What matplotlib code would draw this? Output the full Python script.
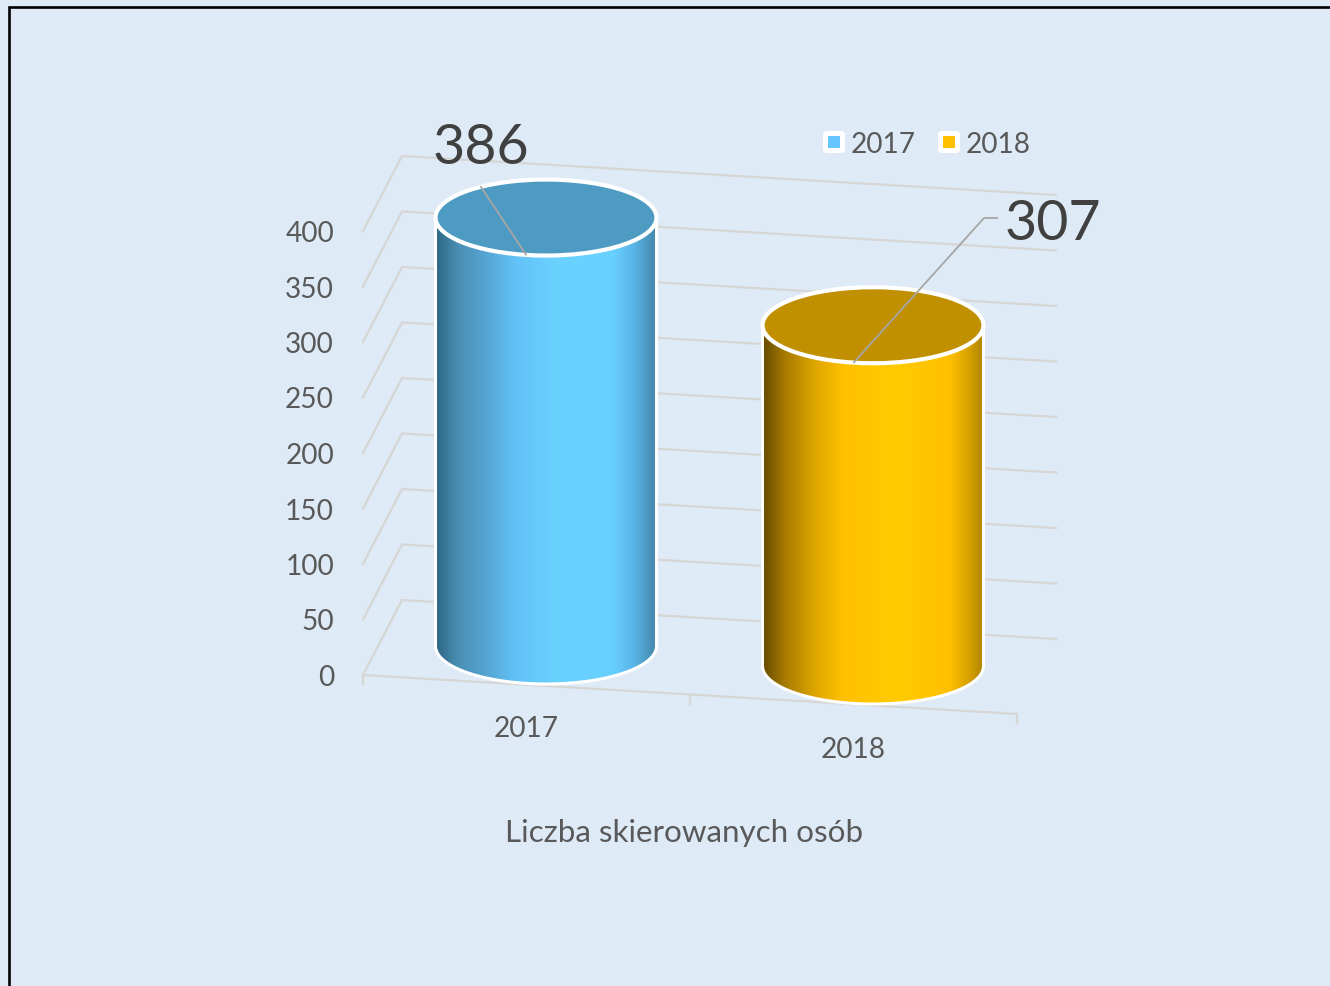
import numpy as np
import matplotlib
matplotlib.use("Agg")
import matplotlib.pyplot as plt
from matplotlib.colors import LinearSegmentedColormap
from matplotlib.patches import Ellipse, PathPatch, FancyBboxPatch, Rectangle
from matplotlib.path import Path

# data
categories = ["2017", "2018"]
values = [386, 307]
y_ticks = [0, 50, 100, 150, 200, 250, 300, 350, 400]
chart_title = "Liczba skierowanych osób"

BG = "#deeaf6"
GRID = "#d6d6d4"
TXT = "#595959"
LABEL = "#404040"

plt.rcParams["font.family"] = ["Lato", "DejaVu Sans"]

# ── scales (pixel space of the slide) ─────────────────────────────────
PX_PER_UNIT = 1.11
FRONT_L = (363, 675)
FRONT_R = (1017, 714)
BACK_L = (402, 600)
BACK_R = (1056, 639)
RX, RY = 110.5, 38


def val_y(v):
    return PX_PER_UNIT * v


def bar_base(i):
    return 546 + 327 * i, 646 + 20 * i


fig = plt.figure(figsize=(13.3, 9.86), dpi=100, facecolor=BG)
ax = fig.add_axes([0, 0, 1, 1])
ax.set_facecolor(BG)
ax.axis("off")

# ── walls and grid ────────────────────────────────────────────────────
for v in y_ticks:
    dy = val_y(v)
    ax.plot([FRONT_L[0], BACK_L[0], BACK_R[0]],
            [FRONT_L[1] - dy, BACK_L[1] - dy, BACK_R[1] - dy],
            color=GRID, lw=1.6, zorder=1, solid_joinstyle="miter")
    ax.text(334, FRONT_L[1] - dy + 3, str(v), ha="right", va="center",
            fontsize=20.2, color=TXT)

ax.plot([FRONT_L[0], FRONT_R[0]], [FRONT_L[1], FRONT_R[1]], color=GRID, lw=1.6, zorder=1)
for t in [0, 0.5, 1]:
    tx = FRONT_L[0] + t * (FRONT_R[0] - FRONT_L[0])
    ty = FRONT_L[1] + t * (FRONT_R[1] - FRONT_L[1])
    ax.plot([tx, tx], [ty, ty + 9], color=GRID, lw=1.6, zorder=1)

# ── cylinders ─────────────────────────────────────────────────────────
cmaps = [
    LinearSegmentedColormap.from_list("b", [(0, "#2e6684"), (0.1, "#4a8fb5"), (0.22, "#54a4d0"),
                                            (0.36, "#62c2f8"), (0.55, "#6ad2ff"), (0.8, "#68d0ff"),
                                            (0.9, "#5ab4e6"), (1, "#4285a8")]),
    LinearSegmentedColormap.from_list("g", [(0, "#674c00"), (0.1, "#a87c00"), (0.24, "#e0a800"),
                                            (0.36, "#ffc000"), (0.6, "#ffcb00"), (0.85, "#ffc000"),
                                            (0.93, "#d8a200"), (1, "#b08400")]),
]
top_colors = ["#4d9ac3", "#c09000"]
legend_colors = ["#66c6ff", "#ffc000"]
grad = np.linspace(0, 1, 256).reshape(1, -1)
theta = np.linspace(0, np.pi, 80)

for i, val in enumerate(values):
    cx, by = bar_base(i)
    ty = by - val_y(val)
    # side of the cylinder: straight edges plus the front half of the base ellipse
    xs = np.r_[cx - RX, cx + RX * np.cos(theta[::-1]), cx + RX]
    ys = np.r_[ty, by + RY * np.sin(theta[::-1]), ty]
    body = PathPatch(Path(np.c_[xs, ys]), fc="none", ec="white", lw=2.2, zorder=3)
    ax.add_patch(body)
    im = ax.imshow(grad, cmap=cmaps[i], extent=[cx - RX, cx + RX, by + RY, ty],
                   aspect="auto", interpolation="bilinear", zorder=2.5)
    im.set_clip_path(body)
    ax.add_patch(Ellipse((cx, ty), 2 * RX, 2 * RY, fc=top_colors[i], ec="white", lw=3, zorder=4))
    ax.text(cx - 19.5, 729 + 21 * i, categories[i], ha="center", va="center",
            fontsize=20.2, color=TXT)

# ── data labels with leader lines ─────────────────────────────────────
cx0, by0 = bar_base(0)
cx1, by1 = bar_base(1)
ax.plot([481, 526], [187, by0 - val_y(values[0]) + RY - 1], color="#a6a6a6", lw=1.3, zorder=5)
ax.plot([997, 984, 854], [218, 218, by1 - val_y(values[1]) + RY - 1], color="#a6a6a6", lw=1.3, zorder=5)
ax.text(481, 149, str(values[0]), ha="center", va="center", fontsize=40, color=LABEL, zorder=6)
ax.text(1053, 224, str(values[1]), ha="center", va="center", fontsize=40, color=LABEL, zorder=6)

# ── legend ────────────────────────────────────────────────────────────
for lx, name, col in zip([823, 938], categories, legend_colors):
    ax.add_patch(FancyBboxPatch((lx + 1, 132), 20, 20, boxstyle="round,pad=0,rounding_size=3",
                                mutation_aspect=1, fc="white", ec="white", lw=1.5, zorder=4))
    ax.add_patch(Rectangle((lx + 5, 136), 12, 12, fc=col, ec="none", zorder=5))
    ax.text(lx + 28, 145, name, ha="left", va="center", fontsize=20.2, color=TXT)

ax.text(684, 833, chart_title, ha="center", va="center", fontsize=22.6, color=TXT)

# slide border, only top and left are visible
ax.plot([8.5, 8.5, 1330], [986, 7, 7], color="black", lw=1.9, zorder=7,
        solid_joinstyle="miter")

ax.set_xlim(0, 1330)
ax.set_ylim(986, 0)
fig.savefig("out.png", dpi=100, facecolor=BG)
